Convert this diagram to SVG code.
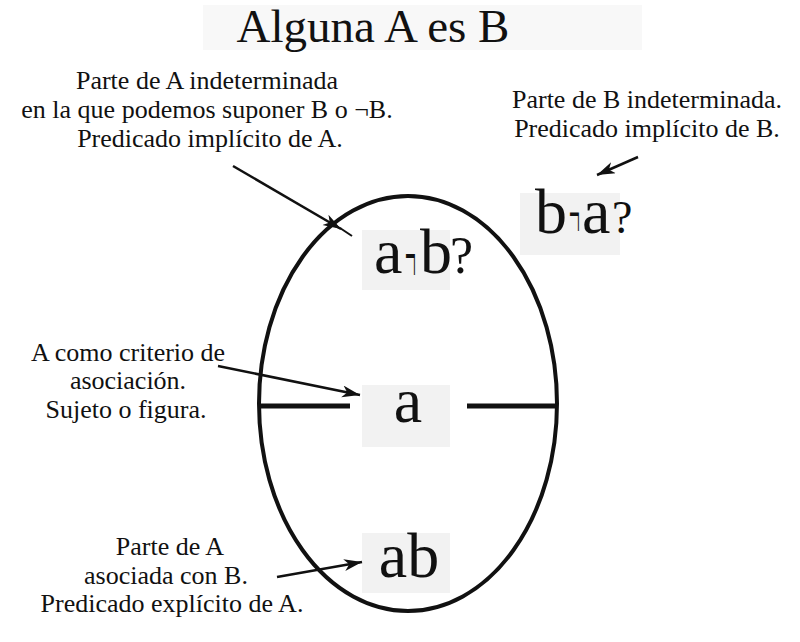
<svg xmlns="http://www.w3.org/2000/svg" width="800" height="642" viewBox="0 0 800 642">
  <style>
    .lbl { font-family: "Liberation Serif", "DejaVu Serif", serif; font-size: 26px; fill: #111; text-anchor: middle; }
    .big { font-family: "Liberation Serif", "DejaVu Serif", serif; font-size: 64px; fill: #111; }
    .neg { font-family: "Liberation Serif", "DejaVu Serif", serif; font-size: 48px; fill: #111; }
    .box { fill: #f2f2f2; }
    .arrow { stroke: #111; stroke-width: 2.5; fill: none; marker-end: url(#ah); }
    .thick { stroke: #111; stroke-width: 5; fill: none; }
  </style>
  <defs>
    <marker id="ah" markerUnits="userSpaceOnUse" markerWidth="20" markerHeight="14" refX="18" refY="6" orient="auto">
      <path d="M0,0 L18,6 L0,12 L5,6 z" fill="#111"/>
    </marker>
  </defs>
  <rect width="800" height="642" fill="#fff"/>

  <g id="title">
    <rect x="203" y="5" width="439" height="45" fill="#f8f8f8"/>
    <text x="373" y="42" font-family="'Liberation Serif', 'DejaVu Serif', serif" font-size="47" text-anchor="middle" fill="#111">Alguna A es B</text>
  </g>

  <g id="setA">
    <ellipse cx="408" cy="403.5" rx="149" ry="207.5" stroke="#111" stroke-width="4" fill="none"/>
    <line class="thick" x1="260" y1="406" x2="350" y2="406"/>
    <line class="thick" x1="467" y1="406" x2="556" y2="406"/>
  </g>

  <g id="node-anotb">
    <rect class="box" x="362" y="230" width="88" height="60"/>
    <text class="big" y="273"><tspan x="374">a</tspan><tspan x="420">b</tspan><tspan x="450" font-size="52">?</tspan></text>
    <text class="neg" transform="translate(405,283) scale(0.4,1.7)">¬</text>
  </g>

  <g id="node-bnota">
    <rect class="box" x="520" y="193" width="100" height="62"/>
    <text class="big" y="233"><tspan x="535">b</tspan><tspan x="582">a</tspan><tspan x="612" font-size="46">?</tspan></text>
    <text class="neg" transform="translate(569,238) scale(0.4,1.5)">¬</text>
  </g>

  <g id="node-a">
    <rect class="box" x="362" y="385" width="88" height="62"/>
    <text class="big" x="408" y="422" text-anchor="middle">a</text>
  </g>

  <g id="node-ab">
    <rect class="box" x="362" y="533" width="88" height="60"/>
    <text class="big" x="409" y="577" text-anchor="middle">ab</text>
  </g>

  <g id="label-top-left">
    <text class="lbl" x="207" y="89">Parte de A indeterminada</text>
    <text class="lbl" x="207" y="118">en la que podemos suponer B o ¬B.</text>
    <text class="lbl" x="210" y="147">Predicado implícito de A.</text>
  </g>

  <g id="label-top-right">
    <text class="lbl" x="647" y="108">Parte de B indeterminada.</text>
    <text class="lbl" x="647" y="137">Predicado implícito de B.</text>
  </g>

  <g id="label-mid-left">
    <text class="lbl" x="128" y="361">A como criterio de</text>
    <text class="lbl" x="128" y="389">asociación.</text>
    <text class="lbl" x="126" y="418">Sujeto o figura.</text>
  </g>

  <g id="label-bottom-left">
    <text class="lbl" x="170" y="555">Parte de A</text>
    <text class="lbl" x="166" y="584">asociada con B.</text>
    <text class="lbl" x="172" y="612">Predicado explícito de A.</text>
  </g>

  <g id="connectors">
    <line class="arrow" x1="233" y1="166" x2="341" y2="229"/>
    <line x1="340" y1="228" x2="352" y2="236" stroke="#111" stroke-width="2"/>
    <line class="arrow" x1="638" y1="157" x2="597" y2="175"/>
    <line class="arrow" x1="218" y1="366" x2="360" y2="395"/>
    <line class="arrow" x1="277" y1="577" x2="362" y2="562"/>
  </g>
</svg>
